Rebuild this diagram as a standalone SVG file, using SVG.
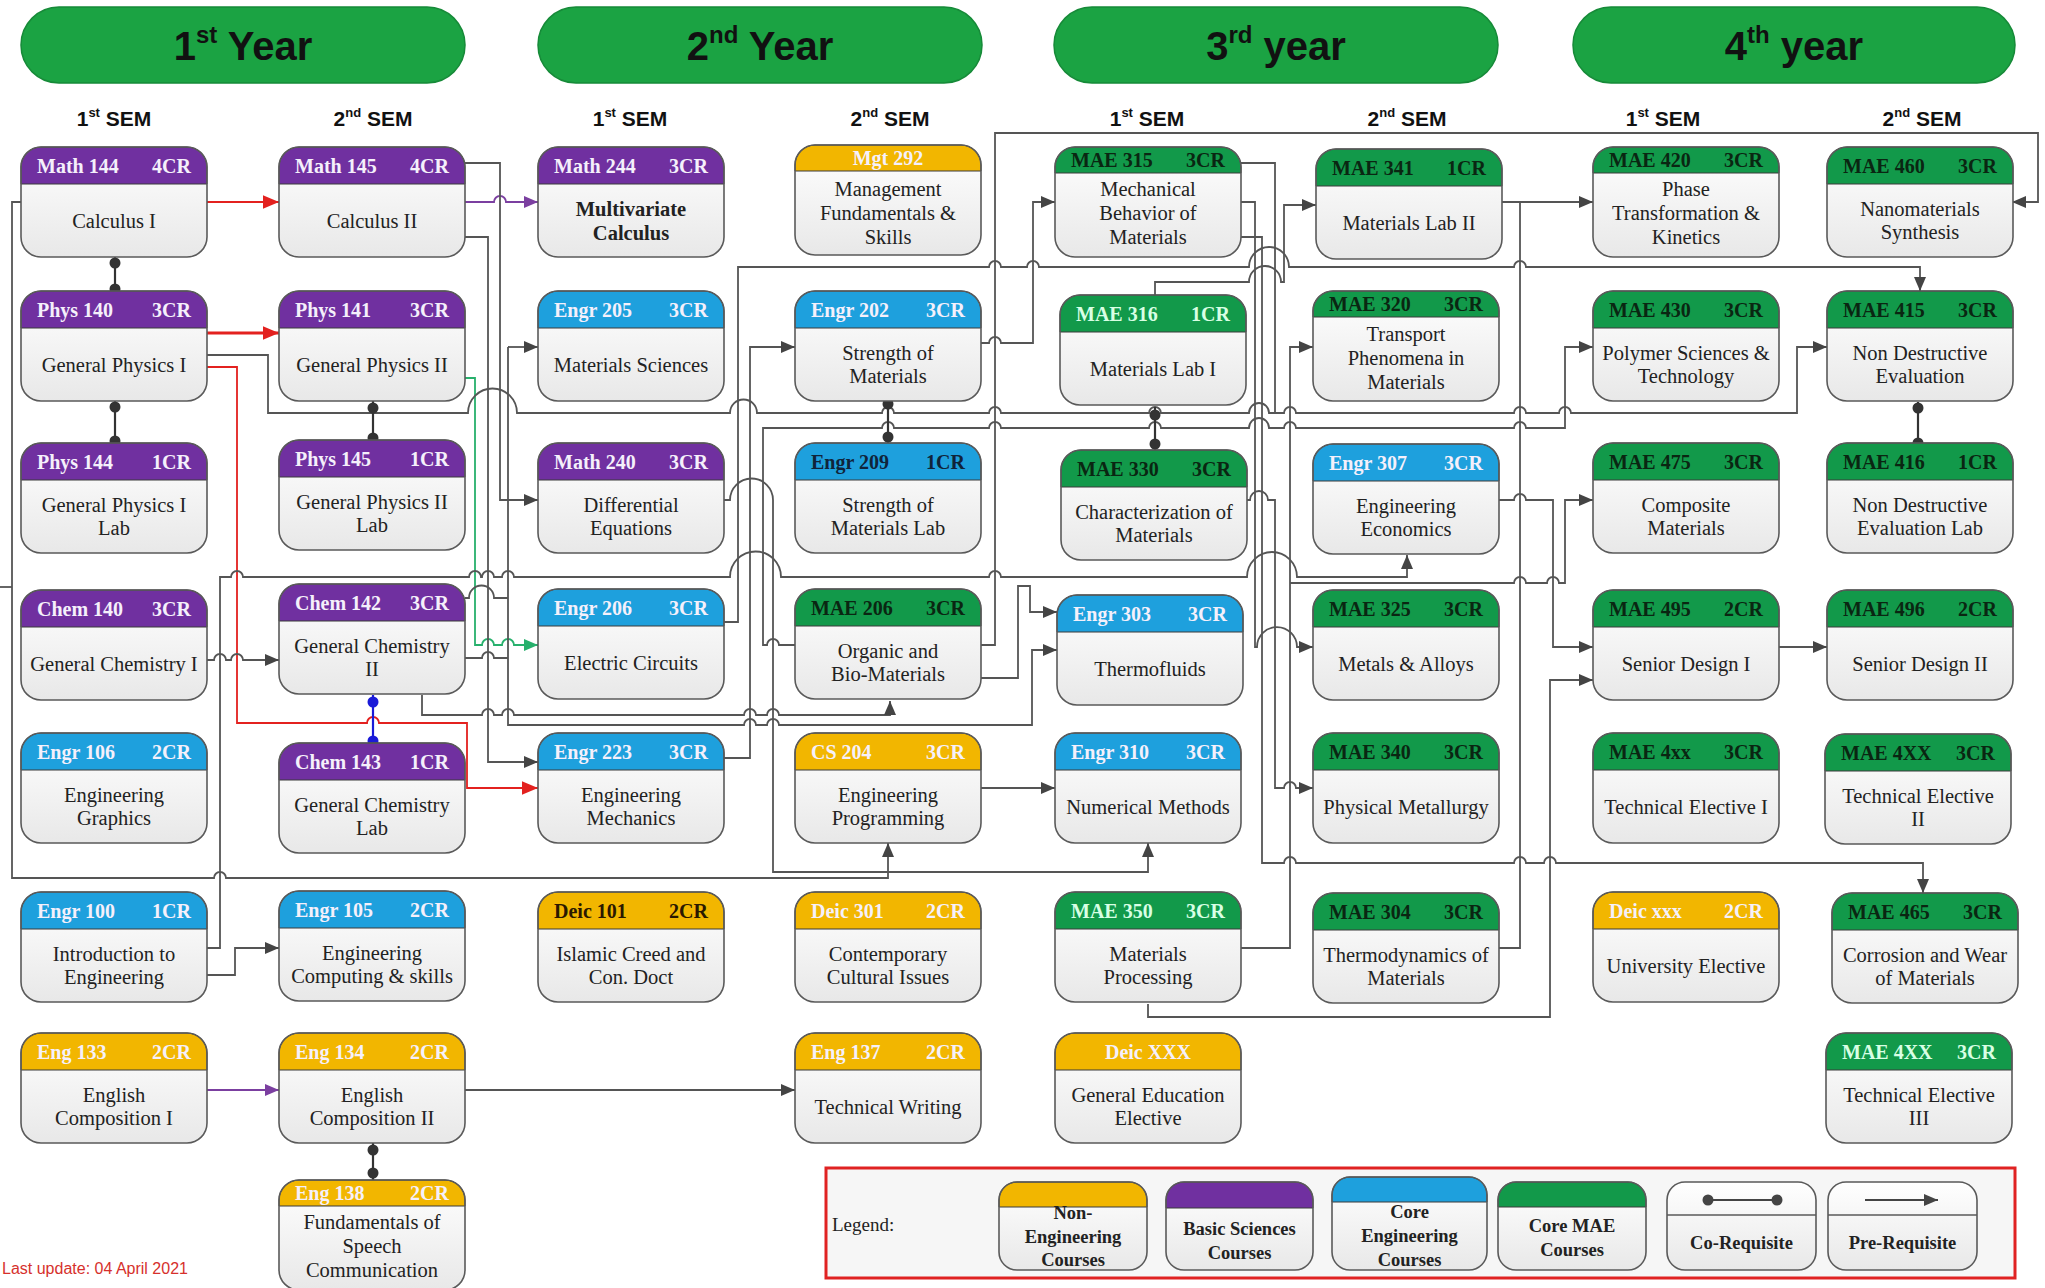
<svg xmlns="http://www.w3.org/2000/svg" xmlns:xlink="http://www.w3.org/1999/xlink" width="2045" height="1288" viewBox="0 0 2045 1288">
<style>
.bd{fill:url(#g)}
.ol{fill:none;stroke:#5a5a5a;stroke-width:1.6}
.pu{fill:#7030a0;stroke:#3a3a3a;stroke-width:1}
.bl{fill:#1ea0dd;stroke:#3a3a3a;stroke-width:1}
.gr{fill:#12994a;stroke:#3a3a3a;stroke-width:1}
.ye{fill:#f2b600;stroke:#3a3a3a;stroke-width:1}
.hc{font-family:"Liberation Serif","Times New Roman",serif;font-weight:bold;font-size:20px}
.lt{fill:#f5f0fb}
.dk{fill:#0a2612}
.lg{fill:#d8ffe4}
.db{fill:#10243a}
.dy{fill:#2a1800}
.bt{font-family:"Liberation Serif","Times New Roman",serif;font-size:20.5px;fill:#222;text-anchor:middle}
.bb{font-weight:bold}
.ban{fill:#1ba343;stroke:#168a38;stroke-width:1.5}
.bnt{font-family:"Liberation Sans",Arial,sans-serif;font-weight:bold;font-size:40px;fill:#111;text-anchor:middle}
.sem{font-family:"Liberation Sans",Arial,sans-serif;font-weight:bold;font-size:21px;fill:#111;text-anchor:middle}
.cn{fill:none;stroke:#555;stroke-width:1.8}
.cr{fill:none;stroke:#333;stroke-width:2.2}
.dot{fill:#333}
.lgt{font-family:"Liberation Serif","Times New Roman",serif;font-weight:bold;font-size:18.5px;fill:#222;text-anchor:middle}
</style>
<defs>
<linearGradient id="g" x1="0" y1="0" x2="0" y2="1"><stop offset="0" stop-color="#ffffff"/><stop offset="1" stop-color="#e8e8e8"/></linearGradient>
<rect id="bx" width="186" height="110" rx="20" ry="20"/>
<path id="h37" d="M0,37V20A20,20 0 0 1 20,0H166A20,20 0 0 1 186,20V37Z"/>
<path id="h26" d="M0,26V20A20,20 0 0 1 20,0H166A20,20 0 0 1 186,20V26Z"/>
<marker id="a" viewBox="0 0 14 12" refX="14" refY="6" markerWidth="14" markerHeight="12" markerUnits="userSpaceOnUse" orient="auto"><path d="M0,0L14,6L0,12z" fill="#444"/></marker>
<marker id="ar" viewBox="0 0 14 12" refX="14" refY="6" markerWidth="16" markerHeight="14" markerUnits="userSpaceOnUse" orient="auto"><path d="M0,0L14,6L0,12z" fill="#e3211f"/></marker>
<marker id="ap" viewBox="0 0 14 12" refX="14" refY="6" markerWidth="14" markerHeight="12" markerUnits="userSpaceOnUse" orient="auto"><path d="M0,0L14,6L0,12z" fill="#7b3fa0"/></marker>
<marker id="ag" viewBox="0 0 14 12" refX="14" refY="6" markerWidth="14" markerHeight="12" markerUnits="userSpaceOnUse" orient="auto"><path d="M0,0L14,6L0,12z" fill="#27b06c"/></marker>
</defs>
<rect width="2045" height="1288" fill="#ffffff"/>

<!-- Year banners -->
<g id="year1"><rect class="ban" x="21" y="7" width="444" height="76" rx="38"/><text class="bnt" x="243" y="60">1<tspan font-size="24" dy="-17">st</tspan><tspan dy="17"> Year</tspan></text></g>
<g id="year2"><rect class="ban" x="538" y="7" width="444" height="76" rx="38"/><text class="bnt" x="760" y="60">2<tspan font-size="24" dy="-17">nd</tspan><tspan dy="17"> Year</tspan></text></g>
<g id="year3"><rect class="ban" x="1054" y="7" width="444" height="76" rx="38"/><text class="bnt" x="1276" y="60">3<tspan font-size="24" dy="-17">rd</tspan><tspan dy="17"> year</tspan></text></g>
<g id="year4"><rect class="ban" x="1573" y="7" width="442" height="76" rx="38"/><text class="bnt" x="1794" y="60">4<tspan font-size="24" dy="-17">th</tspan><tspan dy="17"> year</tspan></text></g>

<!-- Semester labels -->
<g id="sems">
<text class="sem" x="114" y="126">1<tspan font-size="13" dy="-9">st</tspan><tspan dy="9"> SEM</tspan></text>
<text class="sem" x="373" y="126">2<tspan font-size="13" dy="-9">nd</tspan><tspan dy="9"> SEM</tspan></text>
<text class="sem" x="630" y="126">1<tspan font-size="13" dy="-9">st</tspan><tspan dy="9"> SEM</tspan></text>
<text class="sem" x="890" y="126">2<tspan font-size="13" dy="-9">nd</tspan><tspan dy="9"> SEM</tspan></text>
<text class="sem" x="1147" y="126">1<tspan font-size="13" dy="-9">st</tspan><tspan dy="9"> SEM</tspan></text>
<text class="sem" x="1407" y="126">2<tspan font-size="13" dy="-9">nd</tspan><tspan dy="9"> SEM</tspan></text>
<text class="sem" x="1663" y="126">1<tspan font-size="13" dy="-9">st</tspan><tspan dy="9"> SEM</tspan></text>
<text class="sem" x="1922" y="126">2<tspan font-size="13" dy="-9">nd</tspan><tspan dy="9"> SEM</tspan></text>
</g>

<!-- Connectors -->
<g id="connectors">
<path class="cn" d="M0,587H12"/>
<path d="M207,202H279" fill="none" stroke="#e3211f" stroke-width="2" marker-end="url(#ar)"/>
<path d="M207,333H279" fill="none" stroke="#e3211f" stroke-width="3" marker-end="url(#ar)"/>
<path d="M207,367H237V723H367a6,6 0 0 1 12,0H467V788H538" fill="none" stroke="#e3211f" stroke-width="1.8" marker-end="url(#ar)"/>
<path d="M465,378H475V645H482a6,6 0 0 1 12,0H502a6,6 0 0 1 12,0H538" fill="none" stroke="#27b06c" stroke-width="1.8" marker-end="url(#ag)"/>
<path d="M465,202H494a6,6 0 0 1 12,0H538" fill="none" stroke="#7b3fa0" stroke-width="1.8" marker-end="url(#ap)"/>
<path class="cn" d="M465,163H500V500H538" marker-end="url(#a)"/>
<path class="cn" d="M465,237H488V762H538" marker-end="url(#a)"/>
<path class="cn" d="M465,598H469a12.5,12.5 0 0 1 25,0H508"/>
<path class="cn" d="M465,658H482a6,6 0 0 1 12,0H508"/>
<path class="cn" d="M508,347H538" marker-end="url(#a)"/>
<path class="cn" d="M508,347V725H744a6,6 0 0 1 12,0H767a6,6 0 0 1 12,0H1032V650H1057" marker-end="url(#a)"/>
<path class="cn" d="M422,695V715H482a6,6 0 0 1 12,0H502a6,6 0 0 1 12,0H744a6,6 0 0 1 12,0H767a6,6 0 0 1 12,0H890V701" marker-end="url(#a)"/>
<path class="cn" d="M207,660H214a6,6 0 0 1 12,0H231a6,6 0 0 1 12,0H279" marker-end="url(#a)"/>
<path class="cn" d="M207,975H235V948H279" marker-end="url(#a)"/>
<path class="cn" d="M207,948H220V577H231a6,6 0 0 1 12,0H469a6,6 0 0 1 12,0H482a6,6 0 0 1 12,0H502a6,6 0 0 1 12,0H730a25.5,25.5 0 0 1 51,0H989a6,6 0 0 1 12,0H1247a25,25 0 0 1 50,0H1407V555" marker-end="url(#a)"/>
<path class="cn" d="M795,645H779a6,6 0 0 0 -12,0H763V428H882a6,6 0 0 1 12,0H989a6,6 0 0 1 12,0H1149a6,6 0 0 1 12,0H1249a10,10 0 0 1 20,0H1284a6,6 0 0 1 12,0H1514a6,6 0 0 1 12,0H1565V347H1593" marker-end="url(#a)"/>
<path class="cn" d="M723,622H738V267H989a6,6 0 0 1 12,0H1027a6,6 0 0 1 12,0H1249a20,20 0 0 1 40,0H1514a6,6 0 0 1 12,0H1920V291" marker-end="url(#a)"/>
<path class="cn" d="M723,758H750V347H795" marker-end="url(#a)"/>
<path class="cn" d="M723,500H730a21.5,21.5 0 0 1 43,0V872H1148V843" marker-end="url(#a)"/>
<path class="cn" d="M21,202H12V878H214a6,6 0 0 1 12,0H888V843" marker-end="url(#a)"/>
<path class="cn" d="M980,788H1055" marker-end="url(#a)"/>
<path d="M207,1090H279" fill="none" stroke="#7b3fa0" stroke-width="1.8" marker-end="url(#ap)"/>
<path class="cn" d="M465,1090H795" marker-end="url(#a)"/>
<path class="cn" d="M980,645H995V133H2038V202H2012" marker-end="url(#a)"/>
<path class="cn" d="M980,678H1018V586H1030V612H1057" marker-end="url(#a)"/>
<path class="cn" d="M980,343H989a6,6 0 0 1 12,0H1033V202H1055" marker-end="url(#a)"/>
<path class="cn" d="M207,355H268V413H468a24.5,24.5 0 0 1 49,0H730a13.5,13.5 0 0 1 27,0H882a6,6 0 0 1 12,0H989a6,6 0 0 1 12,0H1149a6,6 0 0 1 12,0H1249a10,10 0 0 1 20,0H1284a6,6 0 0 1 12,0H1514a6,6 0 0 1 12,0H1559a6,6 0 0 1 12,0H1797V347H1827" marker-end="url(#a)"/>
<path class="cn" d="M1240,163H1275V413"/>
<path class="cn" d="M1240,202H1255V647H1257a20,20 0 0 1 40,0H1313" marker-end="url(#a)"/>
<path class="cn" d="M1240,237H1262V863H1284a6,6 0 0 1 12,0H1514a6,6 0 0 1 12,0H1544a6,6 0 0 1 12,0H1923V893" marker-end="url(#a)"/>
<path class="cn" d="M1155,295V282H1249a16,16 0 0 1 32,0H1284V205H1316" marker-end="url(#a)"/>
<path class="cn" d="M1247,500H1250a9,9 0 0 1 18,0H1275V788H1284a6,6 0 0 1 12,0H1313" marker-end="url(#a)"/>
<path class="cn" d="M1240,948H1290V347H1313" marker-end="url(#a)"/>
<path class="cn" d="M1290,583H1514a6,6 0 0 1 12,0H1547a6,6 0 0 1 12,0H1565V500H1593" marker-end="url(#a)"/>
<path class="cn" d="M1498,500H1514a6,6 0 0 1 12,0H1553V647H1593" marker-end="url(#a)"/>
<path class="cn" d="M1148,1004V1017H1550V680H1593" marker-end="url(#a)"/>
<path class="cn" d="M1498,948H1520V202"/>
<path class="cn" d="M1502,202H1593" marker-end="url(#a)"/>
<path class="cn" d="M1778,647H1827" marker-end="url(#a)"/>
<!-- co-requisites -->
<path class="cr" d="M115,257V291"/><circle class="dot" cx="115" cy="263" r="5.5"/><circle class="dot" cx="115" cy="289" r="5.5"/>
<path class="cr" d="M115,400V443"/><circle class="dot" cx="115" cy="407" r="5.5"/><circle class="dot" cx="115" cy="441" r="5.5"/>
<path class="cr" d="M373,400V440"/><circle class="dot" cx="373" cy="408" r="5.5"/><circle class="dot" cx="373" cy="438" r="5.5"/>
<path d="M373,695V743" stroke="#1a1ad8" stroke-width="2.2" fill="none"/><circle cx="373" cy="702" r="5.5" fill="#1a1ad8"/><circle cx="373" cy="741" r="5.5" fill="#1a1ad8"/>
<path class="cr" d="M373,1143V1180"/><circle class="dot" cx="373" cy="1150" r="5.5"/><circle class="dot" cx="373" cy="1173" r="5.5"/>
<path class="cr" d="M888,402V443"/><circle class="dot" cx="888" cy="404" r="5.5"/><circle class="dot" cx="888" cy="437" r="5.5"/>
<path class="cr" d="M1155,407V450"/><circle class="dot" cx="1155" cy="415" r="5.5"/><circle class="dot" cx="1155" cy="444" r="5.5"/>
<path class="cr" d="M1918,402V443"/><circle class="dot" cx="1918" cy="408" r="5.5"/><circle class="dot" cx="1918" cy="443" r="5.5"/>
</g>

<!-- Nodes: Year 1, Sem 1 -->
<g id="math144" transform="translate(21,147)"><use href="#bx" class="bd"/><use href="#h37" class="pu"/><use href="#bx" class="ol"/><text class="hc lt" x="16" y="26">Math 144</text><text class="hc lt" x="170" y="26" text-anchor="end">4CR</text><text class="bt" y="81"><tspan x="93">Calculus I</tspan></text></g>
<g id="phys140" transform="translate(21,291)"><use href="#bx" class="bd"/><use href="#h37" class="pu"/><use href="#bx" class="ol"/><text class="hc lt" x="16" y="26">Phys 140</text><text class="hc lt" x="170" y="26" text-anchor="end">3CR</text><text class="bt" y="81"><tspan x="93">General Physics I</tspan></text></g>
<g id="phys144" transform="translate(21,443)"><use href="#bx" class="bd"/><use href="#h37" class="pu"/><use href="#bx" class="ol"/><text class="hc lt" x="16" y="26">Phys 144</text><text class="hc lt" x="170" y="26" text-anchor="end">1CR</text><text class="bt" y="69"><tspan x="93">General Physics I</tspan><tspan x="93" dy="23">Lab</tspan></text></g>
<g id="chem140" transform="translate(21,590)"><use href="#bx" class="bd"/><use href="#h37" class="pu"/><use href="#bx" class="ol"/><text class="hc lt" x="16" y="26">Chem 140</text><text class="hc lt" x="170" y="26" text-anchor="end">3CR</text><text class="bt" y="81"><tspan x="93">General Chemistry I</tspan></text></g>
<g id="engr106" transform="translate(21,733)"><use href="#bx" class="bd"/><use href="#h37" class="bl"/><use href="#bx" class="ol"/><text class="hc lt" x="16" y="26">Engr 106</text><text class="hc lt" x="170" y="26" text-anchor="end">2CR</text><text class="bt" y="69"><tspan x="93">Engineering</tspan><tspan x="93" dy="23">Graphics</tspan></text></g>
<g id="engr100" transform="translate(21,892)"><use href="#bx" class="bd"/><use href="#h37" class="bl"/><use href="#bx" class="ol"/><text class="hc lt" x="16" y="26">Engr 100</text><text class="hc lt" x="170" y="26" text-anchor="end">1CR</text><text class="bt" y="69"><tspan x="93">Introduction to</tspan><tspan x="93" dy="23">Engineering</tspan></text></g>
<g id="eng133" transform="translate(21,1033)"><use href="#bx" class="bd"/><use href="#h37" class="ye"/><use href="#bx" class="ol"/><text class="hc lt" x="16" y="26">Eng 133</text><text class="hc lt" x="170" y="26" text-anchor="end">2CR</text><text class="bt" y="69"><tspan x="93">English</tspan><tspan x="93" dy="23">Composition I</tspan></text></g>

<!-- Year 1, Sem 2 -->
<g id="math145" transform="translate(279,147)"><use href="#bx" class="bd"/><use href="#h37" class="pu"/><use href="#bx" class="ol"/><text class="hc lt" x="16" y="26">Math 145</text><text class="hc lt" x="170" y="26" text-anchor="end">4CR</text><text class="bt" y="81"><tspan x="93">Calculus II</tspan></text></g>
<g id="phys141" transform="translate(279,291)"><use href="#bx" class="bd"/><use href="#h37" class="pu"/><use href="#bx" class="ol"/><text class="hc lt" x="16" y="26">Phys 141</text><text class="hc lt" x="170" y="26" text-anchor="end">3CR</text><text class="bt" y="81"><tspan x="93">General Physics II</tspan></text></g>
<g id="phys145" transform="translate(279,440)"><use href="#bx" class="bd"/><use href="#h37" class="pu"/><use href="#bx" class="ol"/><text class="hc lt" x="16" y="26">Phys 145</text><text class="hc lt" x="170" y="26" text-anchor="end">1CR</text><text class="bt" y="69"><tspan x="93">General Physics II</tspan><tspan x="93" dy="23">Lab</tspan></text></g>
<g id="chem142" transform="translate(279,584)"><use href="#bx" class="bd"/><use href="#h37" class="pu"/><use href="#bx" class="ol"/><text class="hc lt" x="16" y="26">Chem 142</text><text class="hc lt" x="170" y="26" text-anchor="end">3CR</text><text class="bt" y="69"><tspan x="93">General Chemistry</tspan><tspan x="93" dy="23">II</tspan></text></g>
<g id="chem143" transform="translate(279,743)"><use href="#bx" class="bd"/><use href="#h37" class="pu"/><use href="#bx" class="ol"/><text class="hc lt" x="16" y="26">Chem 143</text><text class="hc lt" x="170" y="26" text-anchor="end">1CR</text><text class="bt" y="69"><tspan x="93">General Chemistry</tspan><tspan x="93" dy="23">Lab</tspan></text></g>
<g id="engr105" transform="translate(279,891)"><use href="#bx" class="bd"/><use href="#h37" class="bl"/><use href="#bx" class="ol"/><text class="hc lt" x="16" y="26">Engr 105</text><text class="hc lt" x="170" y="26" text-anchor="end">2CR</text><text class="bt" y="69"><tspan x="93">Engineering</tspan><tspan x="93" dy="23">Computing &amp; skills</tspan></text></g>
<g id="eng134" transform="translate(279,1033)"><use href="#bx" class="bd"/><use href="#h37" class="ye"/><use href="#bx" class="ol"/><text class="hc lt" x="16" y="26">Eng 134</text><text class="hc lt" x="170" y="26" text-anchor="end">2CR</text><text class="bt" y="69"><tspan x="93">English</tspan><tspan x="93" dy="23">Composition II</tspan></text></g>
<g id="eng138" transform="translate(279,1180)"><use href="#bx" class="bd"/><use href="#h26" class="ye"/><use href="#bx" class="ol"/><text class="hc lt" x="16" y="20" font-size="19">Eng 138</text><text class="hc lt" x="170" y="20" text-anchor="end" font-size="19">2CR</text><text class="bt" y="49"><tspan x="93">Fundamentals of</tspan><tspan x="93" dy="24">Speech</tspan><tspan x="93" dy="24">Communication</tspan></text></g>

<!-- Year 2, Sem 1 -->
<g id="math244" transform="translate(538,147)"><use href="#bx" class="bd"/><use href="#h37" class="pu"/><use href="#bx" class="ol"/><text class="hc lt" x="16" y="26">Math 244</text><text class="hc lt" x="170" y="26" text-anchor="end">3CR</text><text class="bt bb" y="69"><tspan x="93">Multivariate</tspan><tspan x="93" dy="24">Calculus</tspan></text></g>
<g id="engr205" transform="translate(538,291)"><use href="#bx" class="bd"/><use href="#h37" class="bl"/><use href="#bx" class="ol"/><text class="hc lt" x="16" y="26">Engr 205</text><text class="hc lt" x="170" y="26" text-anchor="end">3CR</text><text class="bt" y="81"><tspan x="93">Materials Sciences</tspan></text></g>
<g id="math240" transform="translate(538,443)"><use href="#bx" class="bd"/><use href="#h37" class="pu"/><use href="#bx" class="ol"/><text class="hc lt" x="16" y="26">Math 240</text><text class="hc lt" x="170" y="26" text-anchor="end">3CR</text><text class="bt" y="69"><tspan x="93">Differential</tspan><tspan x="93" dy="23">Equations</tspan></text></g>
<g id="engr206" transform="translate(538,589)"><use href="#bx" class="bd"/><use href="#h37" class="bl"/><use href="#bx" class="ol"/><text class="hc lt" x="16" y="26">Engr 206</text><text class="hc lt" x="170" y="26" text-anchor="end">3CR</text><text class="bt" y="81"><tspan x="93">Electric Circuits</tspan></text></g>
<g id="engr223" transform="translate(538,733)"><use href="#bx" class="bd"/><use href="#h37" class="bl"/><use href="#bx" class="ol"/><text class="hc lt" x="16" y="26">Engr 223</text><text class="hc lt" x="170" y="26" text-anchor="end">3CR</text><text class="bt" y="69"><tspan x="93">Engineering</tspan><tspan x="93" dy="23">Mechanics</tspan></text></g>
<g id="deic101" transform="translate(538,892)"><use href="#bx" class="bd"/><use href="#h37" class="ye"/><use href="#bx" class="ol"/><text class="hc dy" x="16" y="26">Deic 101</text><text class="hc dy" x="170" y="26" text-anchor="end">2CR</text><text class="bt" y="69"><tspan x="93">Islamic Creed and</tspan><tspan x="93" dy="23">Con. Doct</tspan></text></g>

<!-- Year 2, Sem 2 -->
<g id="mgt292" transform="translate(795,145)"><use href="#bx" class="bd"/><use href="#h26" class="ye"/><use href="#bx" class="ol"/><text class="hc lt" x="93" y="20" text-anchor="middle" font-size="19">Mgt 292</text><text class="bt" y="51"><tspan x="93">Management</tspan><tspan x="93" dy="24">Fundamentals &amp;</tspan><tspan x="93" dy="24">Skills</tspan></text></g>
<g id="engr202" transform="translate(795,291)"><use href="#bx" class="bd"/><use href="#h37" class="bl"/><use href="#bx" class="ol"/><text class="hc lt" x="16" y="26">Engr 202</text><text class="hc lt" x="170" y="26" text-anchor="end">3CR</text><text class="bt" y="69"><tspan x="93">Strength of</tspan><tspan x="93" dy="23">Materials</tspan></text></g>
<g id="engr209" transform="translate(795,443)"><use href="#bx" class="bd"/><use href="#h37" class="bl"/><use href="#bx" class="ol"/><text class="hc db" x="16" y="26">Engr 209</text><text class="hc db" x="170" y="26" text-anchor="end">1CR</text><text class="bt" y="69"><tspan x="93">Strength of</tspan><tspan x="93" dy="23">Materials Lab</tspan></text></g>
<g id="mae206" transform="translate(795,589)"><use href="#bx" class="bd"/><use href="#h37" class="gr"/><use href="#bx" class="ol"/><text class="hc dk" x="16" y="26">MAE 206</text><text class="hc dk" x="170" y="26" text-anchor="end">3CR</text><text class="bt" y="69"><tspan x="93">Organic and</tspan><tspan x="93" dy="23">Bio-Materials</tspan></text></g>
<g id="cs204" transform="translate(795,733)"><use href="#bx" class="bd"/><use href="#h37" class="ye"/><use href="#bx" class="ol"/><text class="hc lt" x="16" y="26">CS 204</text><text class="hc lt" x="170" y="26" text-anchor="end">3CR</text><text class="bt" y="69"><tspan x="93">Engineering</tspan><tspan x="93" dy="23">Programming</tspan></text></g>
<g id="deic301" transform="translate(795,892)"><use href="#bx" class="bd"/><use href="#h37" class="ye"/><use href="#bx" class="ol"/><text class="hc lt" x="16" y="26">Deic 301</text><text class="hc lt" x="170" y="26" text-anchor="end">2CR</text><text class="bt" y="69"><tspan x="93">Contemporary</tspan><tspan x="93" dy="23">Cultural Issues</tspan></text></g>
<g id="eng137" transform="translate(795,1033)"><use href="#bx" class="bd"/><use href="#h37" class="ye"/><use href="#bx" class="ol"/><text class="hc lt" x="16" y="26">Eng 137</text><text class="hc lt" x="170" y="26" text-anchor="end">2CR</text><text class="bt" y="81"><tspan x="93">Technical Writing</tspan></text></g>

<!-- Year 3, Sem 1 -->
<g id="mae315" transform="translate(1055,147)"><use href="#bx" class="bd"/><use href="#h26" class="gr"/><use href="#bx" class="ol"/><text class="hc dk" x="16" y="20" font-size="19">MAE 315</text><text class="hc dk" x="170" y="20" text-anchor="end" font-size="19">3CR</text><text class="bt" y="49"><tspan x="93">Mechanical</tspan><tspan x="93" dy="24">Behavior of</tspan><tspan x="93" dy="24">Materials</tspan></text></g>
<g id="mae316" transform="translate(1060,295)"><use href="#bx" class="bd"/><use href="#h37" class="gr"/><use href="#bx" class="ol"/><text class="hc lg" x="16" y="26">MAE 316</text><text class="hc lg" x="170" y="26" text-anchor="end">1CR</text><text class="bt" y="81"><tspan x="93">Materials Lab I</tspan></text></g>
<g id="mae330" transform="translate(1061,450)"><use href="#bx" class="bd"/><use href="#h37" class="gr"/><use href="#bx" class="ol"/><text class="hc dk" x="16" y="26">MAE 330</text><text class="hc dk" x="170" y="26" text-anchor="end">3CR</text><text class="bt" y="69"><tspan x="93">Characterization of</tspan><tspan x="93" dy="23">Materials</tspan></text></g>
<g id="engr303" transform="translate(1057,595)"><use href="#bx" class="bd"/><use href="#h37" class="bl"/><use href="#bx" class="ol"/><text class="hc lt" x="16" y="26">Engr 303</text><text class="hc lt" x="170" y="26" text-anchor="end">3CR</text><text class="bt" y="81"><tspan x="93">Thermofluids</tspan></text></g>
<g id="engr310" transform="translate(1055,733)"><use href="#bx" class="bd"/><use href="#h37" class="bl"/><use href="#bx" class="ol"/><text class="hc lt" x="16" y="26">Engr 310</text><text class="hc lt" x="170" y="26" text-anchor="end">3CR</text><text class="bt" y="81"><tspan x="93">Numerical Methods</tspan></text></g>
<g id="mae350" transform="translate(1055,892)"><use href="#bx" class="bd"/><use href="#h37" class="gr"/><use href="#bx" class="ol"/><text class="hc lg" x="16" y="26">MAE 350</text><text class="hc lg" x="170" y="26" text-anchor="end">3CR</text><text class="bt" y="69"><tspan x="93">Materials</tspan><tspan x="93" dy="23">Processing</tspan></text></g>
<g id="deicXXX" transform="translate(1055,1033)"><use href="#bx" class="bd"/><use href="#h37" class="ye"/><use href="#bx" class="ol"/><text class="hc lt" x="93" y="26" text-anchor="middle">Deic XXX</text><text class="bt" y="69"><tspan x="93">General Education</tspan><tspan x="93" dy="23">Elective</tspan></text></g>

<!-- Year 3, Sem 2 -->
<g id="mae341" transform="translate(1316,149)"><use href="#bx" class="bd"/><use href="#h37" class="gr"/><use href="#bx" class="ol"/><text class="hc dk" x="16" y="26">MAE 341</text><text class="hc dk" x="170" y="26" text-anchor="end">1CR</text><text class="bt" y="81"><tspan x="93">Materials Lab II</tspan></text></g>
<g id="mae320" transform="translate(1313,291)"><use href="#bx" class="bd"/><use href="#h26" class="gr"/><use href="#bx" class="ol"/><text class="hc dk" x="16" y="20" font-size="19">MAE 320</text><text class="hc dk" x="170" y="20" text-anchor="end" font-size="19">3CR</text><text class="bt" y="50"><tspan x="93">Transport</tspan><tspan x="93" dy="24">Phenomena in</tspan><tspan x="93" dy="24">Materials</tspan></text></g>
<g id="engr307" transform="translate(1313,444)"><use href="#bx" class="bd"/><use href="#h37" class="bl"/><use href="#bx" class="ol"/><text class="hc lt" x="16" y="26">Engr 307</text><text class="hc lt" x="170" y="26" text-anchor="end">3CR</text><text class="bt" y="69"><tspan x="93">Engineering</tspan><tspan x="93" dy="23">Economics</tspan></text></g>
<g id="mae325" transform="translate(1313,590)"><use href="#bx" class="bd"/><use href="#h37" class="gr"/><use href="#bx" class="ol"/><text class="hc dk" x="16" y="26">MAE 325</text><text class="hc dk" x="170" y="26" text-anchor="end">3CR</text><text class="bt" y="81"><tspan x="93">Metals &amp; Alloys</tspan></text></g>
<g id="mae340" transform="translate(1313,733)"><use href="#bx" class="bd"/><use href="#h37" class="gr"/><use href="#bx" class="ol"/><text class="hc dk" x="16" y="26">MAE 340</text><text class="hc dk" x="170" y="26" text-anchor="end">3CR</text><text class="bt" y="81"><tspan x="93">Physical Metallurgy</tspan></text></g>
<g id="mae304" transform="translate(1313,893)"><use href="#bx" class="bd"/><use href="#h37" class="gr"/><use href="#bx" class="ol"/><text class="hc dk" x="16" y="26">MAE 304</text><text class="hc dk" x="170" y="26" text-anchor="end">3CR</text><text class="bt" y="69"><tspan x="93">Thermodynamics of</tspan><tspan x="93" dy="23">Materials</tspan></text></g>

<!-- Year 4, Sem 1 -->
<g id="mae420" transform="translate(1593,147)"><use href="#bx" class="bd"/><use href="#h26" class="gr"/><use href="#bx" class="ol"/><text class="hc dk" x="16" y="20" font-size="19">MAE 420</text><text class="hc dk" x="170" y="20" text-anchor="end" font-size="19">3CR</text><text class="bt" y="49"><tspan x="93">Phase</tspan><tspan x="93" dy="24">Transformation &amp;</tspan><tspan x="93" dy="24">Kinetics</tspan></text></g>
<g id="mae430" transform="translate(1593,291)"><use href="#bx" class="bd"/><use href="#h37" class="gr"/><use href="#bx" class="ol"/><text class="hc dk" x="16" y="26">MAE 430</text><text class="hc dk" x="170" y="26" text-anchor="end">3CR</text><text class="bt" y="69"><tspan x="93">Polymer Sciences &amp;</tspan><tspan x="93" dy="23">Technology</tspan></text></g>
<g id="mae475" transform="translate(1593,443)"><use href="#bx" class="bd"/><use href="#h37" class="gr"/><use href="#bx" class="ol"/><text class="hc dk" x="16" y="26">MAE 475</text><text class="hc dk" x="170" y="26" text-anchor="end">3CR</text><text class="bt" y="69"><tspan x="93">Composite</tspan><tspan x="93" dy="23">Materials</tspan></text></g>
<g id="mae495" transform="translate(1593,590)"><use href="#bx" class="bd"/><use href="#h37" class="gr"/><use href="#bx" class="ol"/><text class="hc dk" x="16" y="26">MAE 495</text><text class="hc dk" x="170" y="26" text-anchor="end">2CR</text><text class="bt" y="81"><tspan x="93">Senior Design I</tspan></text></g>
<g id="mae4xx1" transform="translate(1593,733)"><use href="#bx" class="bd"/><use href="#h37" class="gr"/><use href="#bx" class="ol"/><text class="hc dk" x="16" y="26">MAE 4xx</text><text class="hc dk" x="170" y="26" text-anchor="end">3CR</text><text class="bt" y="81"><tspan x="93">Technical Elective I</tspan></text></g>
<g id="deicxxx" transform="translate(1593,892)"><use href="#bx" class="bd"/><use href="#h37" class="ye"/><use href="#bx" class="ol"/><text class="hc lt" x="16" y="26">Deic xxx</text><text class="hc lt" x="170" y="26" text-anchor="end">2CR</text><text class="bt" y="81"><tspan x="93">University Elective</tspan></text></g>

<!-- Year 4, Sem 2 -->
<g id="mae460" transform="translate(1827,147)"><use href="#bx" class="bd"/><use href="#h37" class="gr"/><use href="#bx" class="ol"/><text class="hc dk" x="16" y="26">MAE 460</text><text class="hc dk" x="170" y="26" text-anchor="end">3CR</text><text class="bt" y="69"><tspan x="93">Nanomaterials</tspan><tspan x="93" dy="23">Synthesis</tspan></text></g>
<g id="mae415" transform="translate(1827,291)"><use href="#bx" class="bd"/><use href="#h37" class="gr"/><use href="#bx" class="ol"/><text class="hc dk" x="16" y="26">MAE 415</text><text class="hc dk" x="170" y="26" text-anchor="end">3CR</text><text class="bt" y="69"><tspan x="93">Non Destructive</tspan><tspan x="93" dy="23">Evaluation</tspan></text></g>
<g id="mae416" transform="translate(1827,443)"><use href="#bx" class="bd"/><use href="#h37" class="gr"/><use href="#bx" class="ol"/><text class="hc dk" x="16" y="26">MAE 416</text><text class="hc dk" x="170" y="26" text-anchor="end">1CR</text><text class="bt" y="69"><tspan x="93">Non Destructive</tspan><tspan x="93" dy="23">Evaluation Lab</tspan></text></g>
<g id="mae496" transform="translate(1827,590)"><use href="#bx" class="bd"/><use href="#h37" class="gr"/><use href="#bx" class="ol"/><text class="hc dk" x="16" y="26">MAE 496</text><text class="hc dk" x="170" y="26" text-anchor="end">2CR</text><text class="bt" y="81"><tspan x="93">Senior Design II</tspan></text></g>
<g id="mae4xx2" transform="translate(1825,734)"><use href="#bx" class="bd"/><use href="#h37" class="gr"/><use href="#bx" class="ol"/><text class="hc dk" x="16" y="26">MAE 4XX</text><text class="hc dk" x="170" y="26" text-anchor="end">3CR</text><text class="bt" y="69"><tspan x="93">Technical Elective</tspan><tspan x="93" dy="23">II</tspan></text></g>
<g id="mae465" transform="translate(1832,893)"><use href="#bx" class="bd"/><use href="#h37" class="gr"/><use href="#bx" class="ol"/><text class="hc dk" x="16" y="26">MAE 465</text><text class="hc dk" x="170" y="26" text-anchor="end">3CR</text><text class="bt" y="69"><tspan x="93">Corrosion and Wear</tspan><tspan x="93" dy="23">of Materials</tspan></text></g>
<g id="mae4xx3" transform="translate(1826,1033)"><use href="#bx" class="bd"/><use href="#h37" class="gr"/><use href="#bx" class="ol"/><text class="hc lg" x="16" y="26">MAE 4XX</text><text class="hc lg" x="170" y="26" text-anchor="end">3CR</text><text class="bt" y="69"><tspan x="93">Technical Elective</tspan><tspan x="93" dy="23">III</tspan></text></g>

<!-- Legend -->
<g id="legend">
<rect x="826" y="1168" width="1189" height="110" fill="#f6f6f6" stroke="#e02222" stroke-width="3"/>
<text x="832" y="1231" font-family="'Liberation Serif','Times New Roman',serif" font-size="19" fill="#222">Legend:</text>
<rect x="999" y="1182" width="148" height="88" rx="18" fill="url(#g)"/>
<path d="M999,1207V1200a18,18 0 0 1 18,-18H1129a18,18 0 0 1 18,18V1207Z" class="ye"/>
<rect x="999" y="1182" width="148" height="88" rx="18" class="ol"/>
<text class="lgt" y="1219"><tspan x="1073">Non-</tspan><tspan x="1073" dy="24">Engineering</tspan><tspan x="1073" dy="23">Courses</tspan></text>
<rect x="1166" y="1182" width="147" height="88" rx="18" fill="url(#g)"/>
<path d="M1166,1208V1200a18,18 0 0 1 18,-18H1295a18,18 0 0 1 18,18V1208Z" class="pu"/>
<rect x="1166" y="1182" width="147" height="88" rx="18" class="ol"/>
<text class="lgt" y="1235"><tspan x="1239.5">Basic Sciences</tspan><tspan x="1239.5" dy="24">Courses</tspan></text>
<rect x="1332" y="1177" width="155" height="93" rx="18" fill="url(#g)"/>
<path d="M1332,1202V1195a18,18 0 0 1 18,-18H1469a18,18 0 0 1 18,18V1202Z" class="bl"/>
<rect x="1332" y="1177" width="155" height="93" rx="18" class="ol"/>
<text class="lgt" y="1218"><tspan x="1409.5">Core</tspan><tspan x="1409.5" dy="24">Engineering</tspan><tspan x="1409.5" dy="24">Courses</tspan></text>
<rect x="1498" y="1182" width="148" height="88" rx="18" fill="url(#g)"/>
<path d="M1498,1207V1200a18,18 0 0 1 18,-18H1628a18,18 0 0 1 18,18V1207Z" class="gr"/>
<rect x="1498" y="1182" width="148" height="88" rx="18" class="ol"/>
<text class="lgt" y="1232"><tspan x="1572">Core MAE</tspan><tspan x="1572" dy="24">Courses</tspan></text>
<rect x="1667" y="1182" width="149" height="88" rx="18" fill="url(#g)" stroke="#5a5a5a" stroke-width="1.6"/>
<path d="M1667,1215H1816" stroke="#5a5a5a" stroke-width="1.4"/>
<path d="M1708,1200H1777" stroke="#444" stroke-width="2"/><circle cx="1708" cy="1200" r="5.5" fill="#444"/><circle cx="1777" cy="1200" r="5.5" fill="#444"/>
<text class="lgt" x="1741.5" y="1249">Co-Requisite</text>
<rect x="1828" y="1182" width="149" height="88" rx="18" fill="url(#g)" stroke="#5a5a5a" stroke-width="1.6"/>
<path d="M1828,1215H1977" stroke="#5a5a5a" stroke-width="1.4"/>
<path d="M1865,1200H1938" stroke="#444" stroke-width="2" marker-end="url(#a)"/>
<text class="lgt" x="1902.5" y="1249">Pre-Requisite</text>
</g>
<text x="2" y="1274" font-family="'Liberation Sans',Arial,sans-serif" font-size="16" fill="#d6302c">Last update: 04 April 2021</text>
</svg>
